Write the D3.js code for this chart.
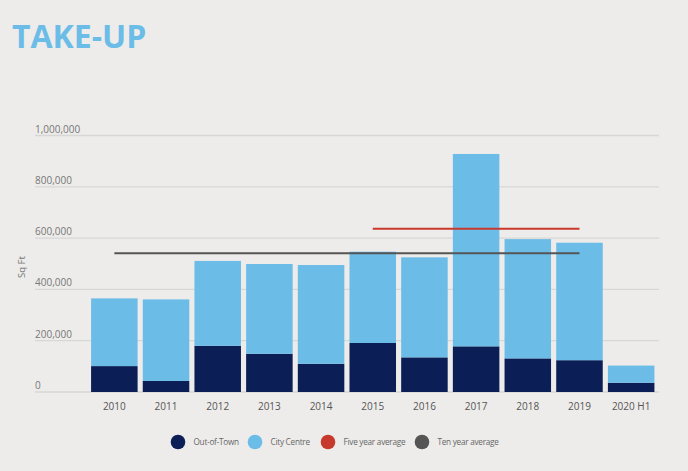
<!DOCTYPE html>
<html>
<head>
<meta charset="utf-8">
<script src="https://cdn.jsdelivr.net/npm/d3@7"></script>
<style>
  html, body { margin: 0; padding: 0; background: #edecea; }
  svg { display: block; font-family: "Open Sans", "Noto Sans", sans-serif; }
</style>
</head>
<body>
<svg id="chart" width="688" height="471"></svg>
<script>
const categories = ["2010","2011","2012","2013","2014","2015","2016","2017","2018","2019","2020 H1"];
const outOfTown  = [101000, 43000, 180000, 149000, 110000, 191000, 135000, 178000, 131000, 124000, 36000];
const cityCentre = [264000, 318000, 331000, 350000, 385000, 356000, 390000, 750000, 465000, 458000, 67000];
const fiveYearAverage = 636000;
const fiveYearSpan = ["2015", "2019"];
const tenYearAverage = 541000;
const tenYearSpan = ["2010", "2019"];
const yTicks = [0, 200000, 400000, 600000, 800000, 1000000];
const legendLabels = ["Out-of-Town", "City Centre", "Five year average", "Ten year average"];

const colors = { out: "#0b1f56", city: "#6cbce8", five: "#c8392d", ten: "#555555" };

const svg = d3.select("#chart");

svg.append("rect").attr("width", 688).attr("height", 471).attr("fill", "#edecea");

svg.append("text")
  .attr("x", 12).attr("y", 48)
  .attr("fill", "#6cbce8")
  .attr("font-size", 32).attr("font-weight", 700)
  .text("TAKE-UP");

const y = d3.scaleLinear().domain([0, 1000000]).range([392, 135.5]);
const x = d3.scaleBand().domain(categories).range([88.5, 657]).paddingInner(0.1).paddingOuter(0.05);

// gridlines + labels
const fmt = d3.format(",");
const grid = svg.append("g");
grid.selectAll("line").data(yTicks).join("line")
  .attr("x1", 35).attr("x2", 659)
  .attr("y1", d => y(d)).attr("y2", d => y(d))
  .attr("stroke", "#d8d7d5").attr("stroke-width", 1.3);
grid.selectAll("text").data(yTicks).join("text")
  .attr("x", 35).attr("y", d => y(d) - 3)
  .attr("fill", "#777").attr("font-size", 10)
  .text(d => fmt(d));

svg.append("text")
  .attr("transform", "translate(25,267) rotate(-90)")
  .attr("text-anchor", "middle")
  .attr("fill", "#777").attr("font-size", 9.5)
  .text("Sq Ft");

// bars
const stackData = categories.map((c, i) => ({ cat: c, out: outOfTown[i], city: cityCentre[i] }));
const stack = d3.stack().keys(["out", "city"])(stackData);
const barCols = { out: colors.out, city: colors.city };
svg.append("g").selectAll("g").data(stack).join("g")
  .attr("fill", d => barCols[d.key])
  .selectAll("rect").data(d => d).join("rect")
  .attr("x", d => x(d.data.cat))
  .attr("width", x.bandwidth())
  .attr("y", d => y(d[1]))
  .attr("height", d => y(d[0]) - y(d[1]));

// average lines
const cx = c => x(c) + x.bandwidth() / 2;
svg.append("line")
  .attr("x1", cx(tenYearSpan[0])).attr("x2", cx(tenYearSpan[1]))
  .attr("y1", y(tenYearAverage)).attr("y2", y(tenYearAverage))
  .attr("stroke", colors.ten).attr("stroke-width", 2);
svg.append("line")
  .attr("x1", cx(fiveYearSpan[0])).attr("x2", cx(fiveYearSpan[1]))
  .attr("y1", y(fiveYearAverage)).attr("y2", y(fiveYearAverage))
  .attr("stroke", colors.five).attr("stroke-width", 2);

// x labels
svg.append("g").selectAll("text").data(categories).join("text")
  .attr("x", d => cx(d)).attr("y", 409.5)
  .attr("text-anchor", "middle")
  .attr("fill", "#555").attr("font-size", 10)
  .text(d => d);

// legend
const legendColors = [colors.out, colors.city, colors.five, colors.ten];
const legendCx = [178, 255, 328, 422];
const lg = svg.append("g");
legendLabels.forEach((lbl, i) => {
  lg.append("circle").attr("cx", legendCx[i]).attr("cy", 442).attr("r", 7.3).attr("fill", legendColors[i]);
  lg.append("text").attr("x", legendCx[i] + 15.5).attr("y", 445.3)
    .attr("fill", "#666").attr("font-size", 8.2).attr("letter-spacing", -0.25)
    .text(lbl);
});
</script>
</body>
</html>
